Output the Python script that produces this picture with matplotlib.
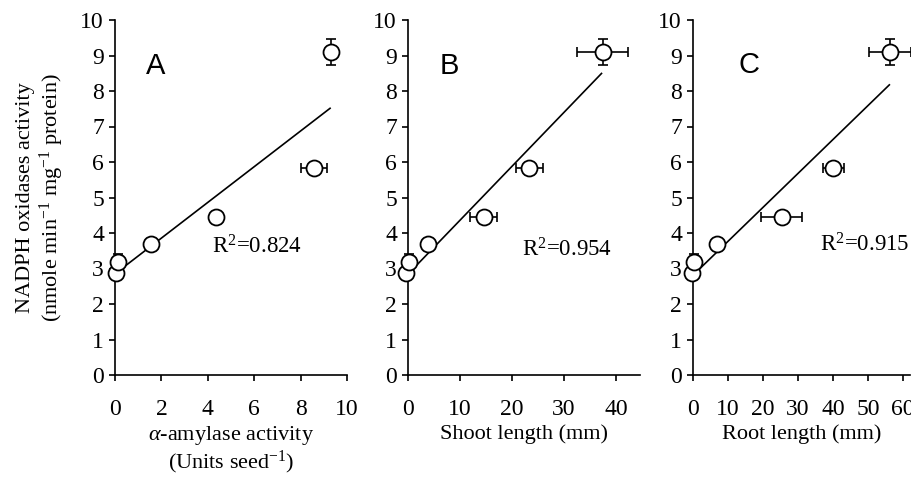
import matplotlib
import numpy as np

matplotlib.use("Agg")
import matplotlib.pyplot as plt

plt.rcParams["font.family"] = ["Liberation Serif", "DejaVu Serif"]
plt.rcParams["mathtext.fontset"] = "custom"
plt.rcParams["mathtext.rm"] = "Liberation Serif"
plt.rcParams["mathtext.it"] = "Liberation Serif:italic"
plt.rcParams["mathtext.bf"] = "Liberation Serif:bold"

# NADPH oxidase activity (shared y values for the three panels)
nadph = [2.88, 3.19, 3.68, 4.44, 5.83, 9.10]
nadph_err = [0.0, 0.22, 0.0, 0.0, 0.0, 0.37]

# panel A: alpha-amylase activity
amylase = [0.05, 0.12, 1.55, 4.35, 8.58, 9.30]
amylase_err = [0.0, 0.0, 0.0, 0.0, 0.55, 0.0]
# panel B: shoot length
shoot = [-0.3, 0.2, 3.9, 14.6, 23.3, 37.4]
shoot_err = [0.0, 0.0, 0.0, 2.6, 2.6, 4.9]
# panel C: root length
root = [-0.4, 0.3, 6.8, 25.3, 40.0, 56.2]
root_err = [0.0, 0.0, 0.0, 5.8, 3.0, 6.0]

# fitted regression lines: (x start, x end, slope, intercept)
fit_a = (0.05, 9.27, 0.503, 2.85)
fit_b = (0.6, 37.2, 0.152, 2.84)
fit_c = (1.0, 56.1, 0.0956, 2.81)

r2_values = ["0.824", "0.954", "0.915"]
panel_letters = ["A", "B", "C"]

W, H = 911, 478
fig = plt.figure(figsize=(W / 100, H / 100), dpi=100)


def make_axes(left_px, right_px, xmax, xticks, xlabel):
    ax = fig.add_axes([left_px / W, 1 - 375 / H, (right_px - left_px) / W, 355 / H])
    ax.set_xlim(0, xmax)
    ax.set_ylim(0, 10)
    ax.set_xticks(xticks)
    ax.set_yticks(range(0, 11))
    for side in ("top", "right"):
        ax.spines[side].set_visible(False)
    for side in ("left", "bottom"):
        ax.spines[side].set_linewidth(1.2)
    ax.tick_params(direction="out", length=4, width=1.2, labelsize=17)
    ax.tick_params(axis="x", pad=13)
    ax.tick_params(axis="y", pad=4)
    ax.set_xlabel(xlabel, fontsize=16, labelpad=3, linespacing=1.1)
    return ax


ax_a = make_axes(115, 347, 10, range(0, 11, 2),
                 "$\\alpha$-amylase activity\n(Units seed$^{-1}$)")
ax_b = make_axes(408, 640, 44.6, range(0, 41, 10), "Shoot length (mm)")
ax_c = make_axes(693, 910, 62, range(0, 61, 10), "Root length (mm)")

ax_a.set_ylabel("NADPH oxidases activity\n(nmole min$^{-1}$ mg$^{-1}$ protein)",
                fontsize=16, labelpad=10, linespacing=1.15)

panels = [
    (ax_a, amylase, amylase_err, fit_a, (1.77, 8.7), (4.2, 3.6)),
    (ax_b, shoot, shoot_err, fit_b, (7.9, 8.7), (21.9, 3.53)),
    (ax_c, root, root_err, fit_c, (15.9, 8.73), (36.2, 3.66)),
]

for i, (ax, xs, xerr, fit, letter_pos, r2_pos) in enumerate(panels):
    x0, x1, slope, intercept = fit
    line_x = np.array([x0, x1])
    ax.plot(line_x, slope * line_x + intercept, color="black", lw=1.2, zorder=2)
    ax.errorbar(xs, nadph, xerr=xerr, yerr=nadph_err, fmt="none", ecolor="black",
                elinewidth=1.2, capsize=3.5, capthick=1.2, zorder=3, clip_on=False)
    ax.plot(xs, nadph, "o", ms=11.5, mfc="white", mec="black", mew=1.3,
            zorder=4, clip_on=False)
    ax.text(*letter_pos, panel_letters[i], fontsize=21, ha="center", va="center",
            family=["Liberation Sans", "DejaVu Sans"])
    ax.text(*r2_pos, "R$^2$=" + r2_values[i], fontsize=16.5, ha="left", va="center")

fig.savefig("out.png", dpi=100)
